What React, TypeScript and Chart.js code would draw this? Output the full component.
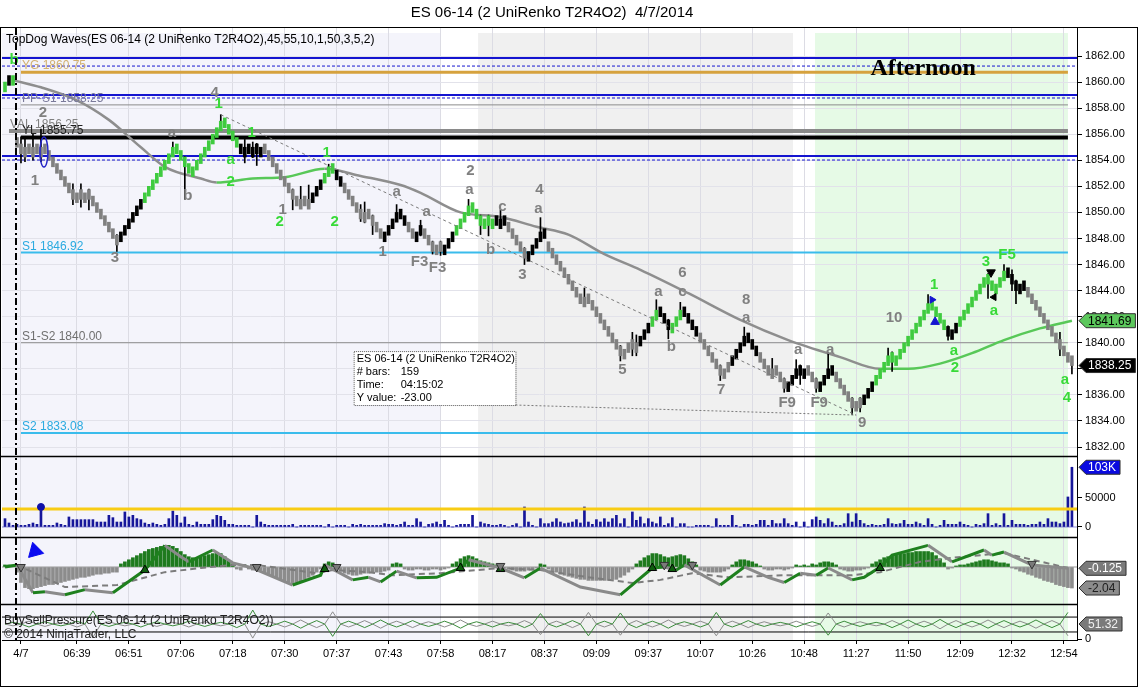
import React, { useEffect, useRef } from 'react';
import { Chart, registerables } from 'chart.js';

Chart.register(...registerables);

const FONT = '"Liberation Sans", Arial, Helvetica, sans-serif';
Chart.defaults.font.family = FONT;

/* ---------- data ---------- */

// x axis (bar index of each time label)
const timeLabels = ['4/7', '06:39', '06:51', '07:06', '07:18', '07:30', '07:37', '07:43', '07:58', '08:17', '08:37',
  '09:09', '09:37', '10:07', '10:26', '10:48', '11:27', '11:50', '12:09', '12:32', '12:54'];
const tickBars = [4, 18, 31, 44, 57, 70, 83, 96, 109, 122, 135, 148, 161, 174, 187, 200, 213, 226, 239, 252, 265];
const priceTicks = [1832, 1834, 1836, 1838, 1840, 1842, 1844, 1846, 1848, 1850, 1852, 1854, 1856, 1858, 1860, 1862];

// renko closes, one per bar
const closes = [
  1860.0, 1859.75, 1860.5, 1855.0, 1854.5, 1855.0, 1854.5, 1855.0, 1854.5, 1855.0,
  1854.5, 1854.0, 1853.5, 1853.0, 1852.5, 1852.0, 1851.5, 1851.0, 1851.5, 1851.0,
  1851.5, 1851.0, 1850.5, 1850.0, 1849.5, 1849.0, 1848.5, 1848.0, 1847.5, 1848.5,
  1849.0, 1849.5, 1850.0, 1850.5, 1851.0, 1851.5, 1852.0, 1852.5, 1853.0, 1853.5,
  1854.0, 1854.5, 1855.0, 1854.5, 1854.0, 1853.5, 1853.0, 1853.5, 1854.0, 1854.5,
  1855.0, 1855.5, 1856.0, 1856.5, 1857.0, 1856.5, 1856.0, 1855.5, 1855.0, 1854.5,
  1855.0, 1854.5, 1855.0, 1854.5, 1855.0, 1854.5, 1854.0, 1853.5, 1853.0, 1852.5,
  1852.0, 1851.5, 1851.0, 1850.5, 1851.0, 1850.5, 1851.0, 1851.5, 1852.0, 1852.5,
  1853.0, 1853.5, 1853.0, 1852.5, 1852.0, 1851.5, 1851.0, 1850.5, 1850.0, 1849.5,
  1850.0, 1849.5, 1849.0, 1848.5, 1848.0, 1848.5, 1849.0, 1849.5, 1850.0, 1849.5,
  1849.0, 1848.5, 1848.0, 1848.5, 1849.0, 1848.0, 1847.5, 1847.0, 1847.5, 1847.0,
  1847.5, 1848.0, 1848.5, 1849.0, 1849.5, 1850.0, 1850.5, 1850.0, 1849.5, 1849.0,
  1849.5, 1849.0, 1849.5, 1849.0, 1849.5, 1849.0, 1848.5, 1848.0, 1847.5, 1847.0,
  1846.5, 1847.0, 1847.5, 1848.0, 1848.5, 1848.0, 1847.0, 1846.5, 1846.0, 1845.5,
  1845.0, 1844.5, 1844.0, 1843.5, 1843.0, 1843.5, 1843.0, 1842.5, 1842.0, 1841.5,
  1841.0, 1840.5, 1840.0, 1839.5, 1839.0, 1839.5, 1840.0, 1839.5, 1840.0, 1840.5,
  1841.0, 1841.5, 1842.0, 1842.5, 1842.0, 1841.5, 1841.0, 1841.5, 1842.0, 1842.5,
  1842.0, 1841.5, 1841.0, 1840.5, 1840.0, 1839.5, 1839.0, 1838.5, 1838.0, 1837.5,
  1838.0, 1838.5, 1839.0, 1839.5, 1840.0, 1840.5, 1840.0, 1839.5, 1839.0, 1838.5,
  1838.0, 1837.5, 1838.0, 1837.5, 1837.0, 1836.5, 1837.0, 1837.5, 1838.0, 1837.5,
  1838.0, 1837.5, 1837.0, 1836.5, 1837.0, 1837.5, 1838.0, 1837.5, 1837.0, 1836.5,
  1836.0, 1835.5, 1835.0, 1835.5, 1835.0, 1836.0, 1836.5, 1837.0, 1837.5, 1838.0,
  1838.5, 1839.0, 1838.5, 1839.0, 1839.5, 1840.0, 1840.5, 1841.0, 1841.5, 1842.0,
  1842.5, 1843.0, 1842.5, 1842.0, 1841.5, 1841.0, 1840.5, 1841.0, 1841.5, 1842.0,
  1842.5, 1843.0, 1843.5, 1844.0, 1844.5, 1845.0, 1844.5, 1844.0, 1844.5, 1845.0,
  1845.5, 1845.0, 1844.5, 1844.0, 1844.5, 1844.0, 1843.5, 1843.0, 1842.5, 1842.0,
  1841.5, 1841.0, 1840.5, 1840.0, 1839.5, 1839.0, 1838.5, 1838.25,
];
// wave colour of each bar: g = up wave, k = counter bar, s = down wave
const barTones = (
  'gkg ssssssssssssssssssssssssss kkkkkk gggggggggggggggggggggggg kkkkkk ssssssssssss kkk ggg kk ssssssssss ' +
  'kkkkkk ss kk sssss kkk gggggggggg kkk sssss kkkkk sssssssssssssssssssssss kkk gg kkk ggg kkkk ssssssss ' +
  'kkkkkkk sssssss kkkkk sss kkkk sssssss kkk gggggggggggggggggg kkk gggggggggggg kkkkk ssssssssssss'
).replace(/ /g, '');

const wickBars = [4, 5, 7, 9, 17, 19, 21, 28, 42, 45, 54, 60, 62, 63, 72, 74, 76, 81, 89, 90, 92, 98, 104, 107, 109,
  116, 119, 121, 124, 130, 134, 145, 154, 157, 158, 163, 166, 169, 179, 185, 192, 195, 198, 199, 203, 206, 212, 214,
  221, 222, 231, 236, 246, 250, 252, 253, 264, 267];
const wickLows = [1853.8, 1853.9, 1854.0, 1853.9, 1850.6, 1850.4, 1850.2, 1847.0, 1854.3, 1851.0,
  1856.3, 1853.8, 1854.2, 1853.6, 1850.2, 1850.3, 1850.3, 1852.8, 1849.3, 1849.2,
  1848.3, 1849.3, 1848.2, 1846.8, 1846.7, 1849.8, 1848.3, 1848.2, 1848.8, 1846.0,
  1847.8, 1842.8, 1838.6, 1839.0, 1839.0, 1841.8, 1840.3, 1841.8, 1837.1, 1839.8,
  1837.3, 1836.2, 1837.3, 1836.8, 1836.2, 1837.3, 1834.5, 1834.7, 1838.3, 1837.8,
  1842.3, 1840.2, 1843.4, 1844.8, 1844.0, 1843.0, 1839.0, 1837.6];
const wickHighs = [1855.8, 1855.6, 1856.0, 1856.4, 1852.2, 1852.2, 1851.8, 1848.3, 1855.4, 1854.3,
  1857.5, 1855.6, 1855.4, 1855.3, 1851.8, 1852.0, 1852.1, 1853.7, 1850.6, 1850.8,
  1849.8, 1850.6, 1849.4, 1847.8, 1847.8, 1851.0, 1849.8, 1849.8, 1850.2, 1847.3,
  1849.6, 1844.2, 1839.8, 1840.8, 1840.6, 1843.3, 1841.8, 1843.1, 1838.3, 1841.2,
  1838.8, 1837.3, 1838.7, 1838.3, 1837.3, 1839.2, 1835.8, 1835.8, 1839.6, 1839.3,
  1843.7, 1841.3, 1845.3, 1846.0, 1845.6, 1844.8, 1840.8, 1838.6];

// moving average
const maBars = [2, 9, 18, 26, 34, 40, 49, 53, 62, 70, 80, 89, 99, 104, 114, 124, 133, 141, 150, 159, 171, 184, 196,
  209, 219, 226, 234, 242, 250, 259, 267];
const maVals = [1860.15, 1859.6, 1858.6, 1857.1, 1855.0, 1853.5, 1852.6, 1852.3, 1852.6, 1852.7, 1853.35, 1852.8,
  1852.1, 1851.5, 1850.0, 1849.65, 1848.9, 1848.3, 1846.8, 1845.6, 1843.8, 1841.75, 1840.2, 1838.9, 1838.0, 1838.0,
  1838.4, 1839.2, 1840.2, 1841.1, 1841.69];

// horizontal levels
const levelPrices = [1861.85, 1861.23, 1860.75, 1859.0, 1858.78, 1858.25, 1856.25, 1855.75, 1854.33, 1854.02,
  1846.92, 1840.0, 1833.08];
const levelNames = ['', '', 'YG', '', '', 'PP-S1', 'VAL', 'YL', '', '', 'S1', 'S1-S2', 'S2'];

// volume, thousands of contracts
const volumes = [
  14.4, 6.9, 2.9, 4.6, 2.9, 2.9, 4.6, 6.9, 4.6, 34.5,
  2.9, 2.9, 2.9, 6.9, 4.6, 2.9, 17.3, 12.7, 12.7, 12.7,
  12.7, 12.7, 12.7, 8.6, 8.6, 8.6, 20.1, 16.1, 8.6, 8.6,
  25.9, 17.3, 20.1, 14.4, 12.7, 6.9, 4.6, 6.9, 4.6, 2.9,
  4.6, 14.4, 27.6, 20.1, 6.9, 17.3, 4.6, 2.9, 8.6, 4.6,
  4.6, 4.6, 12.7, 20.1, 18.4, 11.5, 4.6, 4.6, 2.9, 2.9,
  2.9, 2.9, 0, 20.1, 8.6, 4.6, 2.9, 2.9, 2.9, 2.9,
  2.9, 2.9, 4.6, 0, 2.9, 2.9, 2.9, 2.9, 2.9, 2.9,
  0, 4.6, 0, 2.9, 2.9, 2.9, 0, 4.6, 2.9, 4.6,
  2.9, 2.9, 2.9, 2.9, 2.9, 5.8, 4.6, 4.6, 2.9, 4.6,
  8.6, 2.9, 2.9, 14.4, 8.6, 0, 4.6, 5.8, 8.6, 4.6,
  11.5, 2.9, 0, 2.9, 4.6, 4.6, 4.6, 20.1, 0, 8.6,
  5.8, 4.6, 2.9, 2.9, 4.6, 2.9, 0, 2.9, 5.8, 0,
  34.5, 8.6, 2.9, 0, 14.4, 5.8, 5.8, 8.6, 14.4, 8.6,
  5.8, 6.9, 8.6, 12.7, 6.9, 34.5, 8.6, 4.6, 12.7, 8.6,
  14.4, 8.6, 14.4, 20.1, 5.8, 14.4, 0, 25.9, 11.5, 17.3,
  5.8, 14.4, 8.6, 5.8, 17.3, 2.9, 5.8, 16.1, 0, 5.8,
  5.8, 0, 0, 2.9, 2.9, 2.9, 2.9, 0, 14.4, 2.9,
  2.9, 2.9, 20.1, 2.9, 0, 4.6, 4.6, 2.9, 4.6, 11.5,
  11.5, 2.9, 11.5, 5.8, 5.8, 14.4, 5.8, 2.9, 8.6, 0,
  8.6, 0, 12.7, 17.3, 11.5, 5.8, 14.4, 8.6, 2.9, 2.9,
  5.8, 23, 8.6, 23, 11.5, 5.8, 2.9, 4.6, 2.9, 2.9,
  4.6, 14.4, 5.8, 4.6, 5.8, 11.5, 4.6, 4.6, 8.6, 5.8,
  2.9, 14.4, 4.6, 0, 2.9, 11.5, 4.6, 4.6, 4.6, 8.6,
  4.6, 2.9, 0, 4.6, 2.9, 5.8, 23, 2.9, 5.8, 2.9,
  23, 2.9, 11.5, 4.6, 4.6, 4.6, 2.9, 4.6, 4.6, 8.6,
  4.6, 14.4, 8.6, 8.6, 5.8, 8.6, 51.8, 103,
];
const volAvg = 31;
const volDotBar = 9;

// oscillator histogram, one per bar
const oscHist = [
  0.2, 0.2, 0.2, -0.5, -1.5, -2.0, -2.1, -2.1, -2.0, -1.9,
  -1.8, -1.7, -1.7, -1.6, -1.5, -1.4, -1.3, -1.2, -1.1, -1.0,
  -1.0, -0.9, -0.8, -0.7, -0.7, -0.6, -0.6, -0.5, -0.5, 0.3,
  0.5, 0.7, 0.9, 1.1, 1.3, 1.5, 1.7, 1.8, 1.9, 2.0,
  2.1, 2.1, 2.0, 1.8, 1.5, 1.2, 1.0, 0.9, 0.9, 1.0,
  1.1, 1.2, 1.3, 1.4, 1.3, 1.0, 0.6, 0.3, -0.2, -0.3,
  0.2, -0.2, -0.3, -0.2, -0.3, -0.5, -0.7, -0.9, -1.1, -1.2,
  -1.4, -1.5, -1.6, -1.5, -1.4, -1.2, -1.0, -0.8, -0.5, -0.2,
  0.3, 0.5, 0.4, -0.2, -0.4, -0.6, -0.7, -0.8, -0.8, -0.7,
  -0.6, -0.6, -0.5, -0.5, -0.5, -0.4, -0.3, 0.3, 0.4, 0.3,
  -0.2, -0.3, -0.3, -0.2, -0.2, -0.3, -0.3, -0.2, -0.2, -0.3,
  -0.2, -0.1, 0.3, 0.5, 0.8, 1.0, 1.1, 1.0, 0.8, 0.6,
  0.5, 0.4, 0.3, 0.2, 0.2, -0.1, -0.2, -0.3, -0.4, -0.4,
  -0.4, -0.3, -0.2, -0.1, 0.3, 0.2, -0.2, -0.4, -0.5, -0.7,
  -0.8, -0.9, -1.0, -1.1, -1.2, -1.2, -1.3, -1.3, -1.3, -1.3,
  -1.3, -1.3, -1.2, -1.2, -1.0, -0.8, -0.5, -0.2, 0.3, 0.6,
  0.9, 1.1, 1.3, 1.3, 1.2, 1.0, 0.9, 1.0, 1.1, 1.2,
  1.1, 0.8, 0.5, 0.2, -0.3, -0.4, -0.5, -0.5, -0.5, -0.5,
  -0.4, -0.2, 0.2, 0.5, 0.7, 0.7, 0.6, 0.5, 0.3, 0.1,
  -0.2, -0.3, -0.3, -0.2, -0.2, -0.3, -0.2, -0.1, 0.2, 0.1,
  0.2, 0.1, 0.3, 0.2, 0.4, 0.5, 0.5, 0.4, 0.2, -0.2,
  -0.3, -0.4, -0.4, -0.3, -0.3, -0.2, -0.1, 0.3, 0.5, 0.7,
  0.9, 1.0, 1.1, 1.2, 1.3, 1.3, 1.4, 1.4, 1.5, 1.5,
  1.5, 1.5, 1.4, 1.1, 0.8, 0.4, -0.2, -0.1, 0.1, 0.2,
  0.2, 0.3, 0.4, 0.5, 0.6, 0.7, 0.7, 0.6, 0.5, 0.4,
  0.4, 0.3, -0.1, -0.2, -0.4, -0.5, -0.7, -0.8, -1.0, -1.1,
  -1.3, -1.4, -1.5, -1.7, -1.8, -1.9, -2.0, -2.04,
];
const oscLineBars = [0, 3, 7, 10, 15, 20, 27, 35, 40, 44, 46, 52, 57, 62, 72, 79, 80, 87, 91, 94, 98, 103, 108, 114,
  116, 124, 130, 134, 144, 154, 162, 165, 168, 170, 179, 185, 191, 195, 199, 203, 206, 212, 215, 219, 222, 231, 237,
  245, 247, 250, 257, 266];
const oscLineVals = [0, 0.2, -2.5, -2.4, -2.7, -2.2, -2.5, -0.3, 2.1, 1.0, 0.5, 1.65, 0.4, -0.1, -1.75, -0.8, 0.2,
  -1.25, -1.0, -1.45, -0.4, -1.05, -1.0, -0.1, 0.7, -0.1, -1.05, -0.1, -1.95, -2.7, -0.1, 0, -0.3, 0.2, -1.75, 0,
  -1.0, -1.5, -0.6, -0.8, -0.1, -1.25, -1.0, 0, 1.15, 2.1, 0.5, 1.65, 1.15, 1.45, 0.2, -0.125];
const sigBars = [3, 15, 28, 40, 49, 57, 63, 78, 82, 91, 97, 109, 124, 134, 147, 157, 164, 172, 181, 195, 212, 219,
  229, 237, 250, 266];
const sigVals = [0.2, -1.95, -1.75, -0.5, -0.1, 0.2, 0.2, -0.6, -0.3, -0.5, -0.8, -0.6, -0.1, -0.3, -1.05, -1.55,
  -1.25, -0.6, -1.0, -0.8, -0.8, -0.5, 0.5, 0.9, 1.35, -0.1];
const oscDownBars = [4, 63, 83, 124, 165, 172, 257];
const oscDownVals = [0, 0, 0, 0.1, 0.2, 0.2, 0.3];
const oscUpBars = [35, 80, 114, 124, 162, 167, 219];
const oscUpVals = [-0.3, -0.2, -0.1, -0.2, -0.1, -0.2, -0.1];

// buy / sell pressure, sampled every BS_STEP bars
const BS_STEP = 2;
const bsBuy = [
  51, 57, 51, 41, 51, 59, 51, 45, 51, 61, 51, 96, 51, 43, 51, 57, 51, 41, 51, 59,
  51, 45, 51, 61, 51, 43, 51, 57, 51, 39, 51, 99, 51, 43, 51, 61, 51, 37, 51, 63,
  51, 9, 51, 61, 51, 39, 51, 65, 51, 41, 51, 63, 51, 43, 51, 61, 51, 37, 51, 59,
  51, 41, 51, 57, 51, 39, 51, 87, 51, 41, 51, 63, 51, 11, 51, 61, 51, 89, 51, 39,
  51, 61, 51, 37, 51, 59, 51, 41, 51, 91, 51, 41, 51, 63, 51, 43, 51, 57, 51, 41,
  51, 59, 51, 13, 51, 61, 51, 43, 51, 57, 51, 39, 51, 65, 51, 41, 51, 67, 51, 39,
  51, 61, 51, 37, 51, 63, 51, 41, 51, 65, 51, 39, 51, 91,
];
const bsSell = [
  51, 45, 51, 61, 51, 43, 51, 57, 51, 41, 51, 6, 51, 59, 51, 45, 51, 61, 51, 43,
  51, 57, 51, 41, 51, 59, 51, 45, 51, 63, 51, 3, 51, 59, 51, 41, 51, 65, 51, 39,
  51, 93, 51, 41, 51, 63, 51, 37, 51, 61, 51, 39, 51, 59, 51, 41, 51, 65, 51, 43,
  51, 61, 51, 45, 51, 63, 51, 15, 51, 61, 51, 39, 51, 91, 51, 41, 51, 13, 51, 63,
  51, 41, 51, 65, 51, 43, 51, 61, 51, 11, 51, 61, 51, 39, 51, 59, 51, 45, 51, 61,
  51, 43, 51, 89, 51, 41, 51, 59, 51, 45, 51, 63, 51, 37, 51, 61, 51, 35, 51, 63,
  51, 41, 51, 65, 51, 39, 51, 61, 51, 37, 51, 63, 51, 11,
];
const bsLevels = [75, 24];
const bsLast = 51.32;

// wave annotations (bar index, price)
const waveTexts = ['2', '1', '3', 'a', 'b', '4', '1', '1', 'a', 'a', 'F3', 'F3', '2', 'a', 'c', 'b', '3', '4', 'a',
  '5', 'a', '6', 'c', 'b', '7', '8', 'a', 'F9', 'a', 'F9', 'a', '9', '10',
  'b', '1', '1', 'a', '2', '1', '2', '2', '1', 'a', '2', '3', 'F5', 'a', 'a', '4'];
const waveBars = [9.5, 7.5, 27.5, 41.75, 45.75, 52.5, 69.5, 94.5, 98, 105.5, 103.75, 108.25, 116.5, 116.25, 124.5,
  121.5, 129.5, 133.75, 133.5, 154.5, 163.5, 169.5, 169.5, 166.75, 179.25, 185.5, 185.5, 195.75, 198.5, 203.75,
  206.5, 214.5, 222.5,
  2.25, 53.5, 61.75, 56.5, 56.5, 80.5, 68.75, 82.5, 232.5, 237.5, 237.75, 245.5, 250.75, 247.5, 265.25, 265.75];
const wavePrices = [1857.63, 1852.41, 1846.5, 1856.09, 1851.26, 1859.16, 1850.18, 1846.96, 1851.56, 1850.03,
  1846.19, 1845.73, 1853.17, 1851.72, 1850.41, 1847.11, 1845.19, 1851.72, 1850.26, 1837.9, 1843.89, 1845.35,
  1843.89, 1839.67, 1836.37, 1843.27, 1841.89, 1835.37, 1839.44, 1835.37, 1839.44, 1833.83, 1841.89,
  1861.69, 1858.32, 1856.09, 1854.02, 1852.33, 1854.56, 1849.26, 1849.26, 1844.43, 1839.36, 1838.06, 1846.19,
  1846.73, 1842.43, 1837.13, 1835.75];
const waveTones = 'sssssssssssssssssssssssssssssssss' + 'gggggggggggggggg';

// signal marks on the price pane
const markBars = [232, 232.75, 246.75, 247.5];
const markPrices = [1843.3, 1841.6, 1845.4, 1843.5];

/* ---------- look ---------- */
const X_MIN = -0.75;
const X_MAX = 268.27;
const GREEN_BAR = '#3FCB3F';
const GRAY_BAR = '#808080';
const BLUE = '#1414D0';
const CYAN = '#3ABCEC';
const toneColor: Record<string, string> = { g: GREEN_BAR, k: '#000000', s: GRAY_BAR };

const LEVEL_STYLE = [
  { color: BLUE, width: 2, dash: [] as number[], from: X_MIN, to: X_MAX, text: '' },
  { color: BLUE, width: 1, dash: [3, 2], from: X_MIN, to: X_MAX, text: '' },
  { color: '#D6A23E', width: 3, dash: [], from: 4, to: 266, text: '#D2B070' },
  { color: BLUE, width: 2, dash: [], from: X_MIN, to: X_MAX, text: '' },
  { color: BLUE, width: 1, dash: [3, 2], from: X_MIN, to: X_MAX, text: '' },
  { color: '#8C8C8C', width: 1, dash: [], from: 4, to: 266, text: '#7A7A9A' },
  { color: '#8A8A8A', width: 4, dash: [], from: 1, to: 266, text: '#808080' },
  { color: '#000000', width: 4, dash: [], from: 4, to: 266, text: '#202020' },
  { color: BLUE, width: 2, dash: [], from: X_MIN, to: X_MAX, text: '' },
  { color: BLUE, width: 1, dash: [3, 2], from: X_MIN, to: X_MAX, text: '' },
  { color: CYAN, width: 2, dash: [], from: 4, to: 266, text: '#2AAAE0' },
  { color: '#8C8C8C', width: 1, dash: [], from: 4, to: 266, text: '#707070' },
  { color: CYAN, width: 2, dash: [], from: 4, to: 266, text: '#2AAAE0' },
];

const sessionBands = [
  { from: X_MIN, to: 108.9, color: '#F4F4FB' },
  { from: 118.4, to: 197.2, color: '#F0F0F0' },
  { from: 202.7, to: 266.0, color: '#E6FAE6' },
];

function drawTag(ctx: CanvasRenderingContext2D, x: number, y: number, text: string, bg: string, fg: string) {
  ctx.font = `12px ${FONT}`;
  const w = ctx.measureText(text).width + 6;
  const h = 14;
  ctx.beginPath();
  ctx.moveTo(x, y);
  ctx.lineTo(x + 7, y - h / 2);
  ctx.lineTo(x + 7 + w, y - h / 2);
  ctx.lineTo(x + 7 + w, y + h / 2);
  ctx.lineTo(x + 7, y + h / 2);
  ctx.closePath();
  ctx.fillStyle = bg;
  ctx.fill();
  ctx.lineWidth = 1;
  ctx.strokeStyle = '#303030';
  ctx.stroke();
  ctx.fillStyle = fg;
  ctx.textAlign = 'left';
  ctx.textBaseline = 'middle';
  ctx.fillText(text, x + 9, y + 0.5);
}

const ninjaPlugin = {
  id: 'ninja',
  beforeDraw(chart: any) {
    const { ctx, chartArea: a, scales } = chart;
    ctx.save();
    ctx.fillStyle = '#fff';
    ctx.fillRect(0, 0, chart.width, chart.height);
    for (const b of sessionBands) {
      const x0 = Math.max(a.left, scales.x.getPixelForValue(b.from));
      const x1 = Math.min(a.right, scales.x.getPixelForValue(b.to));
      ctx.fillStyle = b.color;
      ctx.fillRect(x0, a.top + 5, x1 - x0, a.bottom - a.top - 5);
    }
    ctx.restore();
  },
  afterDatasetsDraw(chart: any) {
    const { ctx, scales } = chart;
    const xs = scales.x;
    const ys = scales.y;
    ctx.save();

    // level names
    ctx.font = `12px ${FONT}`;
    ctx.textAlign = 'left';
    ctx.textBaseline = 'alphabetic';
    levelNames.forEach((n, i) => {
      if (!n) return;
      ctx.fillStyle = LEVEL_STYLE[i].text;
      const bx = n === 'VAL' ? 1.25 : 4.25;
      ctx.fillText(`${n} ${levelPrices[i].toFixed(2)}`, xs.getPixelForValue(bx), ys.getPixelForValue(levelPrices[i]) - 3);
    });

    // measuring tool
    ctx.strokeStyle = '#7A7A7A';
    ctx.lineWidth = 1;
    ctx.setLineDash([3, 3]);
    ctx.beginPath();
    ctx.moveTo(xs.getPixelForValue(54), ys.getPixelForValue(1857.5));
    ctx.lineTo(xs.getPixelForValue(213), ys.getPixelForValue(1834.45));
    ctx.stroke();
    ctx.setLineDash([2, 2]);
    ctx.beginPath();
    ctx.moveTo(xs.getPixelForValue(127.75), ys.getPixelForValue(1835.22));
    ctx.lineTo(xs.getPixelForValue(213), ys.getPixelForValue(1834.45));
    ctx.stroke();
    const bl = xs.getPixelForValue(87.25), br = xs.getPixelForValue(127.75);
    const bt = ys.getPixelForValue(1839.36), bb = ys.getPixelForValue(1835.22);
    ctx.setLineDash([1, 1]);
    ctx.fillStyle = '#fff';
    ctx.fillRect(bl, bt, br - bl, bb - bt);
    ctx.strokeStyle = '#555';
    ctx.strokeRect(bl + 0.5, bt + 0.5, br - bl, bb - bt);
    ctx.setLineDash([]);
    ctx.fillStyle = '#000';
    ctx.font = `11px ${FONT}`;
    ctx.textBaseline = 'middle';
    const info = [['ES 06-14 (2 UniRenko T2R4O2)', ''], ['# bars:', '159'], ['Time:', '04:15:02'], ['Y value:', '-23.00']];
    info.forEach(([k, v], i) => {
      ctx.fillText(k, bl + 3, bt + 8 + i * 13);
      if (v) ctx.fillText(v, bl + 47, bt + 8 + i * 13);
    });

    // ellipse on the opening bar
    ctx.strokeStyle = '#2424C8';
    ctx.lineWidth = 1.5;
    ctx.beginPath();
    ctx.ellipse(xs.getPixelForValue(9.75), ys.getPixelForValue(1854.63), 4, 15, 0, 0, Math.PI * 2);
    ctx.stroke();

    // wave labels
    ctx.font = `bold 15px ${FONT}`;
    ctx.textAlign = 'center';
    ctx.textBaseline = 'middle';
    waveTexts.forEach((t, i) => {
      ctx.fillStyle = waveTones[i] === 'g' ? '#38DA38' : '#808080';
      ctx.fillText(t, xs.getPixelForValue(waveBars[i]), ys.getPixelForValue(wavePrices[i]));
    });

    ctx.font = `bold 24px "Liberation Serif", "Times New Roman", serif`;
    ctx.fillStyle = '#000';
    ctx.fillText('Afternoon', xs.getPixelForValue(229.75), ys.getPixelForValue(1861.0));
    ctx.restore();
  },
  afterDraw(chart: any) {
    const { ctx, chartArea: a, scales } = chart;
    const xs = scales.x;
    ctx.save();

    // session break
    ctx.strokeStyle = '#000';
    ctx.lineWidth = 2;
    ctx.setLineDash([7, 3, 2, 3]);
    const sx = Math.round(xs.getPixelForValue(2.75));
    ctx.beginPath();
    ctx.moveTo(sx, a.top);
    ctx.lineTo(sx, a.bottom);
    ctx.stroke();
    ctx.setLineDash([]);

    // pane separators
    ctx.lineWidth = 1.5;
    for (const id of ['yVol', 'yOsc', 'yBs']) {
      const y = Math.round(scales[id].top) + 0.5;
      ctx.beginPath();
      ctx.moveTo(0, y);
      ctx.lineTo(a.right, y);
      ctx.stroke();
    }

    // frame + title
    ctx.lineWidth = 1;
    ctx.strokeRect(0.5, 27.5, chart.width - 1, chart.height - 28);
    ctx.fillStyle = '#000';
    ctx.font = `15px ${FONT}`;
    ctx.textAlign = 'center';
    ctx.textBaseline = 'middle';
    ctx.fillText('ES 06-14 (2 UniRenko T2R4O2)  4/7/2014', 552, 13);

    ctx.font = `12px ${FONT}`;
    ctx.textAlign = 'left';
    ctx.fillText('TopDog Waves(ES 06-14 (2 UniRenko T2R4O2),45,55,10,1,50,3,5,2)', a.left + 4, a.top + 12);
    ctx.fillStyle = '#202020';
    ctx.fillText('BuySellPressure(ES 06-14 (2 UniRenko T2R4O2))', a.left + 2, scales.yBs.top + 17);
    ctx.fillText('\u00A9 2014 NinjaTrader, LLC', a.left + 2, scales.yBs.top + 31);

    // value tags on the axis
    const tx = a.right + 2;
    const lastMa = maVals[maVals.length - 1];
    const lastClose = closes[closes.length - 1];
    const lastVol = volumes[volumes.length - 1];
    const lastOsc = oscLineVals[oscLineVals.length - 1];
    const lastHist = oscHist[oscHist.length - 1];
    drawTag(ctx, tx, scales.y.getPixelForValue(lastMa), lastMa.toFixed(2), '#5CC85C', '#000');
    drawTag(ctx, tx, scales.y.getPixelForValue(lastClose), lastClose.toFixed(2), '#000', '#fff');
    drawTag(ctx, tx, scales.yVol.getPixelForValue(lastVol), `${Math.round(lastVol)}K`, '#0A0AE0', '#fff');
    drawTag(ctx, tx, scales.yOsc.getPixelForValue(lastOsc), lastOsc.toFixed(3), '#7A7A7A', '#fff');
    drawTag(ctx, tx, scales.yOsc.getPixelForValue(lastHist), lastHist.toFixed(2), '#8C8C8C', '#202020');
    drawTag(ctx, tx, scales.yBs.getPixelForValue(bsLast), bsLast.toFixed(2), '#7A7A7A', '#F0F0F0');
    ctx.restore();
  },
};

const AXIS_FONT = { size: 11, family: FONT };

const rightAxis = (extra: any) => ({
  type: 'linear',
  position: 'right',
  stack: 'panes',
  offset: false,
  beginAtZero: false,
  border: { color: '#000' },
  grid: { drawOnChartArea: false, tickColor: '#000', tickLength: 5 },
  afterFit: (s: any) => { s.width = 61; },
  ...extra,
  ticks: { color: '#000', font: AXIS_FONT, padding: 3, autoSkip: false, ...(extra.ticks || {}) },
});

const flat = (v: number) => [{ x: X_MIN, y: v }, { x: X_MAX, y: v }];
const segColor = (up: string, dn: string) => ({
  borderColor: (c: any) => (c.p1.parsed.y >= c.p0.parsed.y ? up : dn),
});

export default function App() {
  const ref = useRef<HTMLCanvasElement>(null);

  useEffect(() => {
    document.body.style.margin = '0';
    const canvas = ref.current;
    if (!canvas) return;

    const bodies = closes.map((c, i) => {
      const prev = i === 0 ? c - 0.5 : closes[i - 1];
      const dir = c >= prev ? 1 : -1;
      return { x: i, y: [c - dir * 0.75, c] };
    });

    const datasets: any[] = [
      // price pane
      ...levelPrices.map((p, i) => ({
        type: 'line', yAxisID: 'y', data: [{ x: LEVEL_STYLE[i].from, y: p }, { x: LEVEL_STYLE[i].to, y: p }],
        borderColor: LEVEL_STYLE[i].color, borderWidth: LEVEL_STYLE[i].width, borderDash: LEVEL_STYLE[i].dash,
        pointRadius: 0, order: 20,
      })),
      {
        type: 'line', yAxisID: 'y', data: maBars.map((b, i) => ({ x: b, y: maVals[i] })),
        borderWidth: 2.5, pointRadius: 0, cubicInterpolationMode: 'monotone',
        segment: segColor('#58C858', '#8E8E8E'), borderColor: '#8E8E8E', order: 8,
      },
      {
        type: 'bar', yAxisID: 'y', data: wickBars.map((b, i) => ({ x: b, y: [wickLows[i], wickHighs[i]] })),
        backgroundColor: '#000', barThickness: 1, grouped: false, order: 6,
      },
      {
        type: 'bar', yAxisID: 'y', data: bodies, grouped: false, barThickness: 3,
        backgroundColor: closes.map((_, i) => toneColor[barTones[i]] ?? GRAY_BAR), order: 5,
      },
      {
        type: 'scatter', yAxisID: 'y', data: markBars.map((b, i) => ({ x: b, y: markPrices[i] })),
        pointStyle: 'triangle', pointRadius: [4, 5, 5, 4], pointRotation: [90, 0, 180, 270],
        backgroundColor: [BLUE, BLUE, '#000', '#000'], borderColor: [BLUE, BLUE, '#000', '#000'], order: 1,
      },
      // volume pane
      {
        type: 'line', yAxisID: 'yVol', data: flat(0), borderColor: '#8C8CD8', borderWidth: 1, pointRadius: 0, order: 12,
      },
      {
        type: 'bar', yAxisID: 'yVol', data: volumes.map((v, i) => ({ x: i, y: v })), grouped: false,
        barThickness: 2, backgroundColor: '#16169A', order: 5,
      },
      {
        type: 'line', yAxisID: 'yVol', data: flat(volAvg), borderColor: '#F8CC14', borderWidth: 3, pointRadius: 0, order: 3,
      },
      {
        type: 'scatter', yAxisID: 'yVol', data: [{ x: volDotBar, y: volumes[volDotBar] }],
        pointRadius: 3.5, backgroundColor: '#1010A8', borderColor: '#1010A8', order: 1,
      },
      // oscillator pane
      {
        type: 'line', yAxisID: 'yOsc', data: flat(0), borderColor: '#9A9A9A', borderWidth: 1, pointRadius: 0, order: 12,
      },
      {
        type: 'bar', yAxisID: 'yOsc', data: oscHist.map((v, i) => ({ x: i, y: v })), grouped: false, barThickness: 3,
        backgroundColor: oscHist.map(v => (v >= 0 ? '#1E7A1E' : '#8C8C8C')), order: 7,
      },
      {
        type: 'line', yAxisID: 'yOsc', data: sigBars.map((b, i) => ({ x: b, y: sigVals[i] })),
        borderColor: '#7C7C7C', borderWidth: 2, borderDash: [6, 4], pointRadius: 0, order: 4,
      },
      {
        type: 'line', yAxisID: 'yOsc', data: oscLineBars.map((b, i) => ({ x: b, y: oscLineVals[i] })),
        borderWidth: 3, pointRadius: 0, segment: segColor('#1E801E', '#8A8A8A'), borderColor: '#8A8A8A', order: 3,
      },
      {
        type: 'scatter', yAxisID: 'yOsc', data: oscDownBars.map((b, i) => ({ x: b, y: oscDownVals[i] })),
        pointStyle: 'triangle', pointRotation: 180, pointRadius: 5, backgroundColor: '#7A7A7A', borderColor: '#333', order: 1,
      },
      {
        type: 'scatter', yAxisID: 'yOsc', data: oscUpBars.map((b, i) => ({ x: b, y: oscUpVals[i] })),
        pointStyle: 'triangle', pointRadius: 5, backgroundColor: '#0E5E0E', borderColor: '#000', order: 1,
      },
      {
        type: 'scatter', yAxisID: 'yOsc', data: [{ x: 7.5, y: 1.55 }],
        pointStyle: 'triangle', pointRotation: 105, pointRadius: 9, backgroundColor: '#0A0AF0', borderColor: '#0A0AF0', order: 1,
      },
      // buy / sell pane
      ...bsLevels.map(v => ({
        type: 'line', yAxisID: 'yBs', data: flat(v), borderColor: '#000', borderWidth: 1, pointRadius: 0, order: 12,
      })),
      {
        type: 'line', yAxisID: 'yBs', data: bsSell.map((v, i) => ({ x: i * BS_STEP, y: v })),
        borderColor: '#8C8C8C', borderWidth: 1, pointRadius: 0, order: 5,
      },
      {
        type: 'line', yAxisID: 'yBs', data: bsBuy.map((v, i) => ({ x: i * BS_STEP, y: v })),
        borderColor: '#3C8C3C', borderWidth: 1, pointRadius: 0, order: 4,
      },
    ];

    const chart = new Chart(canvas, {
      type: 'bar',
      data: { datasets },
      options: {
        responsive: false,
        animation: false,
        events: [],
        layout: { autoPadding: false, padding: { left: 2, top: 28, right: 0, bottom: 0 } },
        plugins: { legend: { display: false }, tooltip: { enabled: false }, title: { display: false } },
        scales: {
          x: {
            type: 'linear', position: 'bottom', min: X_MIN, max: X_MAX, offset: false,
            border: { color: '#000' },
            grid: { color: '#DCDCE4', offset: false, tickColor: '#000', tickLength: 4 },
            ticks: {
              autoSkip: false, maxRotation: 0, color: '#000', padding: 3, font: AXIS_FONT,
              callback: (v: any) => timeLabels[tickBars.indexOf(Number(v))] ?? '',
            },
            afterBuildTicks: (s: any) => { s.ticks = tickBars.map(v => ({ value: v })); },
            afterFit: (s: any) => { s.height = 47; s.paddingLeft = 0; s.paddingRight = 0; },
          },
          y: rightAxis({
            stackWeight: 428, min: 1831.31, max: 1864.15,
            grid: { drawOnChartArea: true, color: '#E2E2EA', tickColor: '#000', tickLength: 5 },
            ticks: { callback: (v: any) => Number(v).toFixed(2) },
            afterBuildTicks: (s: any) => { s.ticks = priceTicks.map(v => ({ value: v })); },
          }),
          yVol: rightAxis({
            stackWeight: 81, min: -17.24, max: 122.4,
            ticks: { callback: (v: any) => (Number(v) === 0 ? '0' : String(Number(v) * 1000)) },
            afterBuildTicks: (s: any) => { s.ticks = [0, 50].map(v => ({ value: v })); },
          }),
          yOsc: rightAxis({
            stackWeight: 67, min: -3.59, max: 2.91,
            grid: { drawOnChartArea: false, drawTicks: false },
            ticks: { display: false },
          }),
          yBs: rightAxis({
            stackWeight: 36, min: -3.42, max: 119.7,
            afterBuildTicks: (s: any) => { s.ticks = [{ value: 0 }]; },
          }),
        },
      } as any,
      plugins: [ninjaPlugin],
    });

    return () => { chart.destroy(); };
  }, []);

  return <canvas ref={ref} width={1138} height={687} style={{ display: 'block' }} />;
}
